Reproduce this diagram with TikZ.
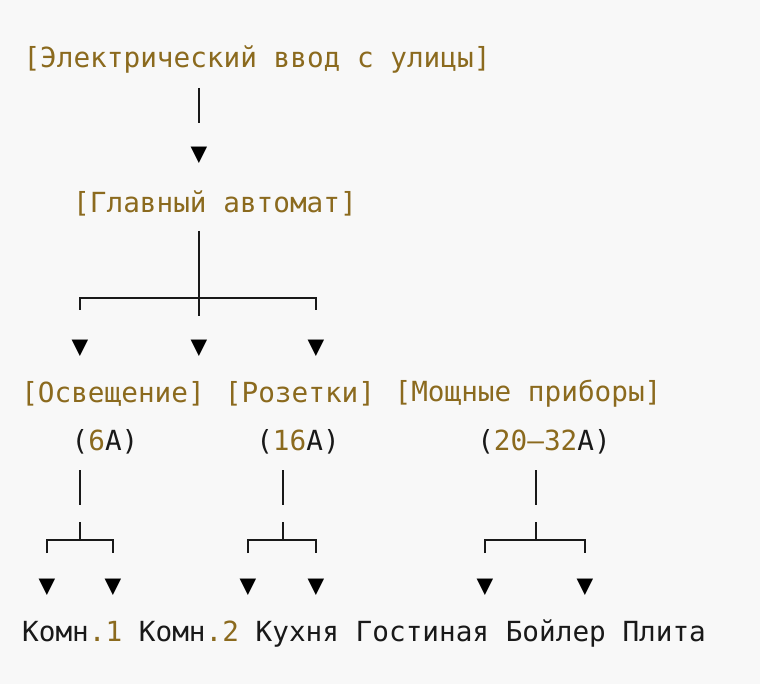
\documentclass[tikz,border=0pt]{standalone}
\usepackage{fontspec}
\setmonofont{DejaVu Sans Mono}
\usetikzlibrary{positioning}
\definecolor{labelbrown}{HTML}{8B6A1E}
\definecolor{bgpaper}{HTML}{F8F8F8}
\tikzset{
	label_text/.style={font=\ttfamily\fontsize{27.7}{30}\selectfont, text=labelbrown, inner sep=0pt},
	plain_text/.style={font=\ttfamily\fontsize{27.7}{30}\selectfont, text=black!90, inner sep=0pt},
	tip/.style={font=\ttfamily\fontsize{27.7}{30}\selectfont, inner sep=0pt},
	wire/.style={draw=black!90, line width=1.6pt}
}
\newcommand{\hl}[1]{\textcolor{labelbrown}{#1}}
\begin{document}
\begin{tikzpicture}[x=1pt, y=-1pt]
	\fill[bgpaper] (0,0) rectangle (760,684);
	\useasboundingbox (0,0) rectangle (760,684);
	% nodes
	\node [style=label_text] (street) at (257, 60) {[Электрический ввод с улицы]};
	\node [style=tip] (t0) at (199, 155) {▼};
	\node [style=label_text] (main) at (215, 203) {[Главный автомат]};
	\node [style=tip] (t1) at (80, 348) {▼};
	\node [style=tip] (t2) at (199, 348) {▼};
	\node [style=tip] (t3) at (316, 348) {▼};
	\node [style=label_text] (light) at (113, 394) {[Освещение]};
	\node [style=label_text] (sock) at (300, 394) {[Розетки]};
	\node [style=label_text] (power) at (528, 394) {[Мощные приборы]};
	\node [style=plain_text] (lightA) at (105, 442) {(\hl{6}A)};
	\node [style=plain_text] (sockA) at (298, 442) {(\hl{16}A)};
	\node [style=plain_text] (powerA) at (544, 442) {(\hl{20}\hl{–}\hl{32}A)};
	\foreach \x [count=\i] in {47, 113, 248, 316, 485, 585}
		\node [style=tip] (b\i) at (\x, 587) {▼};
	\node [style=plain_text, anchor=west] (rooms) at (22, 634) {Комн\hl{.1} Комн\hl{.2} Кухня Гостиная Бойлер Плита};
	% wires
	\draw [style=wire] (199, 88) -- (199, 123);
	\draw [style=wire] (199, 231) -- (199, 316);
	\draw [style=wire] (80, 310) -- (80, 298) -- (316, 298) -- (316, 310);
	\foreach \x/\l/\r in {80/47/113, 283/248/316, 536/485/585} {
		\draw [style=wire] (\x, 470) -- (\x, 505);
		\draw [style=wire] (\x, 522) -- (\x, 540);
		\draw [style=wire] (\l, 553) -- (\l, 540) -- (\r, 540) -- (\r, 553);
	}
\end{tikzpicture}
\end{document}
